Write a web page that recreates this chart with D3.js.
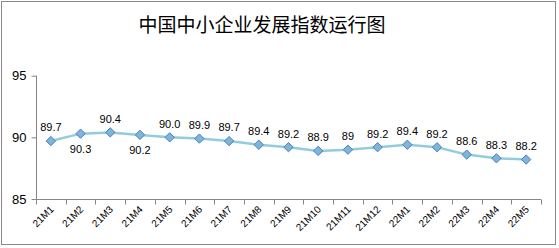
<!DOCTYPE html>
<html><head><meta charset="utf-8">
<script src="https://cdn.jsdelivr.net/npm/d3@7"></script>
<style>body{margin:0;background:#fff}svg{display:block}</style>
</head><body>
<svg id="c" width="559" height="248"></svg>
<script>
const categories = ["21M1","21M2","21M3","21M4","21M5","21M6","21M7","21M8","21M9","21M10","21M11","21M12","22M1","22M2","22M3","22M4","22M5"];
const values = [89.7,90.3,90.4,90.2,90.0,89.9,89.7,89.4,89.2,88.9,89,89.2,89.4,89.2,88.6,88.3,88.2];
const valueLabels = ["89.7","90.3","90.4","90.2","90.0","89.9","89.7","89.4","89.2","88.9","89","89.2","89.4","89.2","88.6","88.3","88.2"];
const labelBelow = [false,true,false,true,false,false,false,false,false,false,false,false,false,false,false,false,false];
const yTicks = [85,90,95];
const title = "中国中小企业发展指数运行图";

const svg = d3.select("#c");
svg.append("rect").attr("x",1.5).attr("y",1.5).attr("width",554).attr("height",243)
  .attr("fill","#fff").attr("stroke","#898989").attr("stroke-width",1);

svg.append("text").attr("x",262).attr("y",32).attr("text-anchor","middle")
  .attr("font-family","'Noto Sans CJK SC'").attr("font-size",19).attr("font-weight",400)
  .attr("fill","#000").text(title);

const x = d3.scaleBand().domain(categories).range([36,541]);
const y = d3.scaleLinear().domain([85,95]).range([199,75.7]);

const axisColor = "#868686";
// y axis
const ya = svg.append("g").attr("transform","translate(36.5,0)")
  .call(d3.axisLeft(y).tickValues(yTicks).tickSize(5).tickPadding(5));
ya.select(".domain").attr("stroke",axisColor).attr("d",`M0,${y(95)}V${y(85)}`);
ya.selectAll(".tick line").attr("stroke",axisColor);
ya.selectAll(".tick text").attr("font-family","'Liberation Sans',Arial,sans-serif").attr("font-size",13).attr("fill","#000");

// x axis
const xa = svg.append("g").attr("transform",`translate(0,${y(85)+0.5})`)
  .call(d3.axisBottom(x).tickSize(0).tickFormat(""));
xa.select(".domain").attr("stroke",axisColor).attr("d",`M${x.range()[0]},0H${x.range()[1]}`);
const bounds = categories.map(c=>x(c)).concat([x.range()[1]]);
xa.selectAll("line.b").data(bounds).join("line").attr("class","b")
  .attr("x1",d=>Math.round(d)+0.5).attr("x2",d=>Math.round(d)+0.5).attr("y1",0).attr("y2",5).attr("stroke",axisColor);
xa.selectAll("text.cl").data(categories).join("text").attr("class","cl")
  .attr("transform",d=>`translate(${x(d)+x.bandwidth()/2+1},${8}) rotate(-45)`)
  .attr("text-anchor","end").attr("dy","0.35em")
  .attr("font-family","'Liberation Sans',Arial,sans-serif").attr("font-size",10).attr("fill","#000")
  .text(d=>d);

const cx = (d,i)=>x(categories[i])+x.bandwidth()/2;
const line = d3.line().x((d,i)=>cx(d,i)).y(d=>y(d));
svg.append("path").datum(values).attr("d",line).attr("fill","none")
  .attr("stroke","#93CDDD").attr("stroke-width",2.5);

svg.selectAll("path.m").data(values).join("path").attr("class","m")
  .attr("d",d3.symbol().type(d3.symbolDiamond2).size(55))
  .attr("transform",(d,i)=>`translate(${cx(d,i)},${y(d)})`)
  .attr("fill","#7FB5DA").attr("stroke","#4A7EBB").attr("stroke-width",1);

svg.selectAll("text.vl").data(values).join("text").attr("class","vl")
  .attr("x",(d,i)=>cx(d,i)).attr("y",(d,i)=>y(d)+(labelBelow[i]?15:-13.5))
  .attr("dy","0.35em").attr("text-anchor","middle")
  .attr("font-family","'Liberation Sans',Arial,sans-serif").attr("font-size",11).attr("fill","#000")
  .text((d,i)=>valueLabels[i]);
</script>
</body></html>
